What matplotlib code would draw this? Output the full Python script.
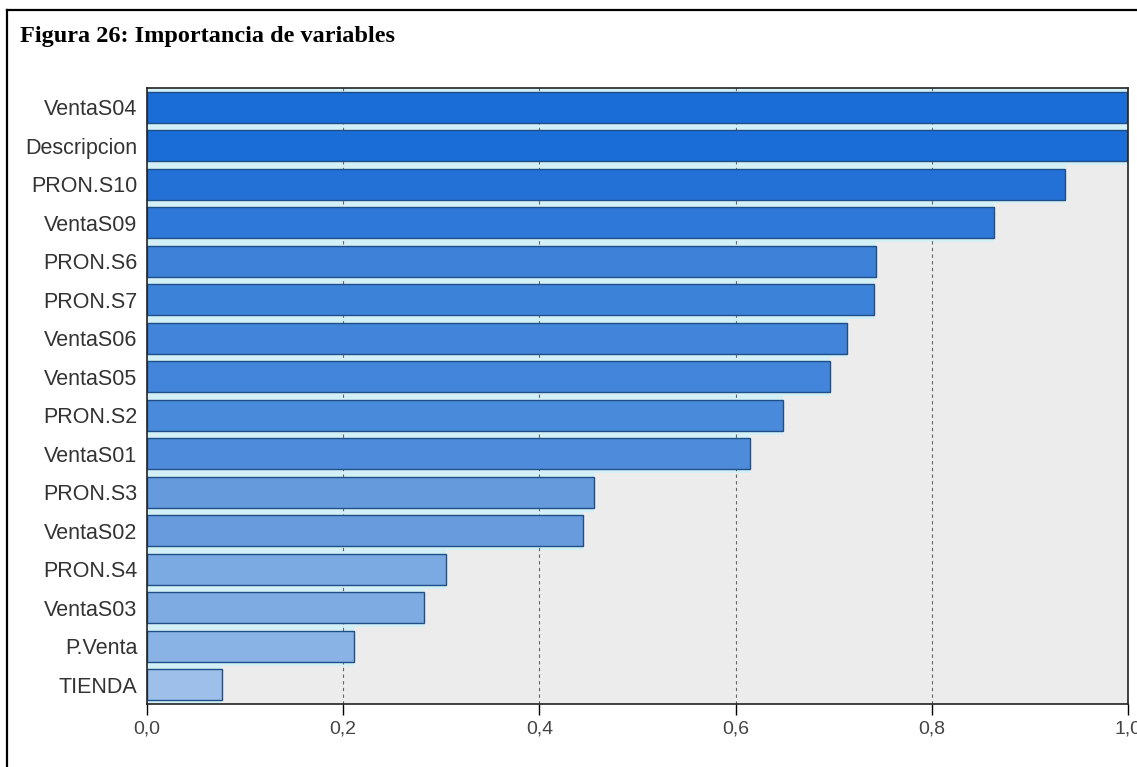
import numpy as np
import matplotlib.pyplot as plt
from matplotlib.colors import LinearSegmentedColormap
from matplotlib.lines import Line2D

variables = ["VentaS04", "Descripcion", "PRON.S10", "VentaS09", "PRON.S6", "PRON.S7",
             "VentaS06", "VentaS05", "PRON.S2", "VentaS01", "PRON.S3", "VentaS02",
             "PRON.S4", "VentaS03", "P.Venta", "TIENDA"]
importancia = [1.0, 1.0, 0.936, 0.863, 0.743, 0.741, 0.714, 0.696, 0.648, 0.615,
               0.456, 0.444, 0.305, 0.282, 0.211, 0.076]
xticks = [0.0, 0.2, 0.4, 0.6, 0.8, 1.0]
xtick_labels = ["0,0", "0,2", "0,4", "0,6", "0,8", "1,0"]

fig = plt.figure(figsize=(11.37, 7.67), dpi=100)
ax = fig.add_axes([0.1293, 0.0821, 0.8627, 0.8032])

# colour goes from pale blue (low importance) to saturated blue (high)
cmap = LinearSegmentedColormap.from_list("imp", ["#a9c6ec", "#5e96dc", "#1a6cd6"])
y = np.arange(len(variables))
vals = np.array(importancia)

ax.set_facecolor("#ececec")
# light halo around each bar
ax.barh(y, vals, height=1.0, color="#d3f0f6", edgecolor="none", zorder=1)
ax.barh(y, vals, height=0.8, color=cmap(vals), edgecolor="#1f4f86",
        linewidth=1.0, zorder=2)

ax.set_ylim(len(variables) - 0.5, -0.5)
ax.set_xlim(0, 1.0)
ax.set_yticks(y)
ax.set_yticklabels(variables, fontsize=15.5, color="#333333", family="Liberation Sans")
ax.set_xticks(xticks)
ax.set_xticklabels(xtick_labels, fontsize=14, color="#444444", family="Liberation Sans")
ax.tick_params(axis="y", length=0, pad=7)
ax.tick_params(axis="x", length=8, width=1, direction="out", pad=4)

for t in xticks[1:-1]:
    ax.axvline(t, color="#666666", linestyle=(0, (3, 3)), linewidth=0.8, zorder=1.5)

for side in ax.spines.values():
    side.set_color("#222222")
    side.set_linewidth(1.2)

fig.text(0.0176, 0.952, "Figura 26: Importancia de variables", fontsize=17.5,
         fontweight="bold", family="Liberation Serif", va="center", ha="left")

# outer frame (top and left edges)
fig.add_artist(Line2D([0.0062, 1.0], [0.987, 0.987], color="black", linewidth=1.6,
                      transform=fig.transFigure))
fig.add_artist(Line2D([0.0062, 0.0062], [0.0, 0.987], color="black", linewidth=1.6,
                      transform=fig.transFigure))

fig.savefig("out.png", dpi=100)
